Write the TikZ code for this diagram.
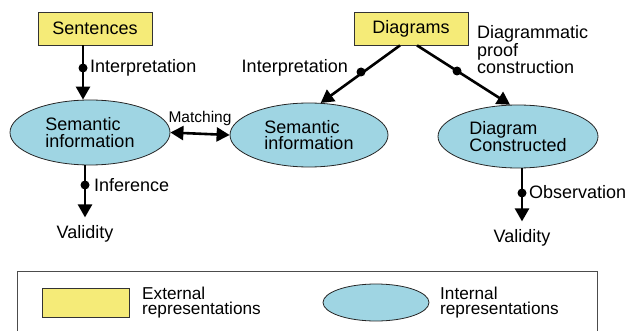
\documentclass[tikz,border=0pt]{standalone}
\usepackage{fontspec}
\setmainfont{Liberation Sans}
\usetikzlibrary{shapes.geometric,arrows.meta,calc}
\definecolor{extyellow}{HTML}{F5EB78}
\definecolor{intblue}{HTML}{9FD5E3}
\tikzset{
  txt/.style={font=\fontsize{18}{16.5}\selectfont, inner sep=0pt},
  legtxt/.style={font=\fontsize{17.2}{15.5}\selectfont, inner sep=0pt},
  extbox/.style={draw=black!80, line width=0.8pt, fill=extyellow, inner sep=0pt},
  intell/.style={ellipse, draw=black!85, line width=0.8pt, fill=intblue, inner sep=0pt},
  flow/.style={line width=2.6pt, -{Triangle[length=13pt,width=14pt]}},
  both/.style={line width=2.6pt, {Triangle[length=13pt,width=14pt]}-{Triangle[length=13pt,width=14pt]}},
  dot/.style={circle, fill=black, inner sep=0pt, minimum size=9pt},
}
\begin{document}
\begin{tikzpicture}[x=1pt,y=-1pt]
\useasboundingbox (0,0) rectangle (628,331);
\clip (0,0) rectangle (628,331);

% external representations
\node[extbox, minimum width=114pt, minimum height=33pt] (sent) at (95,28.5) {};
\node[txt] at (sent) {Sentences};
\node[extbox, minimum width=114pt, minimum height=33pt] (diag) at (411,28.5) {};
\node[txt] at (diag) {Diagrams};

% internal representations
\node[intell, minimum width=160pt, minimum height=65pt] (semL) at (90,132.5) {};
\node[txt, align=left] at (semL) {Semantic\\information};
\node[intell, minimum width=158pt, minimum height=64pt] (semM) at (309,135) {};
\node[txt, align=left] at (semM) {Semantic\\information};
\node[intell, minimum width=160pt, minimum height=63pt] (dcon) at (518,136.5) {};
\node[txt, align=left] at (dcon) {Diagram\\Constructed};

% end results
\node[txt] (valL) at (85,234) {Validity};
\node[txt] (valR) at (522,238) {Validity};

% connectors
\coordinate (s0) at (sent.south -| 83,0);
\coordinate (s1) at (semL.north -| 83,0);
\draw[flow] (s0) -- (s1);
\node[dot] (d1) at (83,68) {};
\node[txt, anchor=west] (l1) at (90,68) {Interpretation};

\coordinate (i0) at (semL.south -| 85,0);
\draw[flow] (i0) -- ($(valL.north)+(0,-8)$);
\node[dot] (d2) at (85,185) {};
\node[txt, anchor=west] (l2) at (94,185) {Inference};

\draw[both] (semL.east) -- (semM.west);
\node[txt, anchor=south, font=\fontsize{15.5}{17}\selectfont] (l3) at (200,126) {Matching};

\draw[flow] ($(diag.south)+(-11,0)$) -- (semM.70);
\node[dot] (d3) at (361,72) {};
\node[txt, anchor=east] (l4) at (348,68) {Interpretation};

\draw[flow] ($(diag.south)+(6,0)$) -- (dcon.104);
\node[dot] (d4) at (457,71) {};
\node[txt, anchor=north west, align=left] (l5) at (477,25) {Diagrammatic\\proof\\construction};

\coordinate (o0) at (dcon.south -| 522,0);
\draw[flow] (o0) -- ($(valR.north)+(0,-8)$);
\node[dot] (d5) at (522,193) {};
\node[txt, anchor=west] (l6) at (529,192) {Observation};

% legend
\draw[black!70, line width=0.8pt] (17,271) rectangle (597,345);
\node[extbox, minimum width=87pt, minimum height=29pt] (legE) at (85.5,302.5) {};
\node[legtxt, anchor=west, align=left] at (142,302.5) {External\\representations};
\node[intell, minimum width=106pt, minimum height=37pt] (legI) at (376,302.5) {};
\node[legtxt, anchor=west, align=left] at (440,302.5) {Internal\\representations};
\end{tikzpicture}
\end{document}
